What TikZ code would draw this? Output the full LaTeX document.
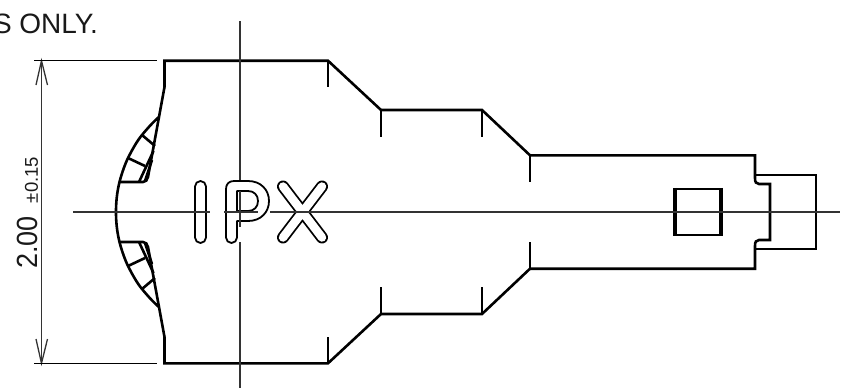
\documentclass[tikz,border=0pt]{standalone}
\usepackage{fontspec}
\setmainfont{Liberation Sans}
\tikzset{
  outline/.style={line width=2.6pt,black,line join=miter},
  centerline/.style={line width=1.2pt,black!80},
  dimline/.style={line width=1.3pt,black!80},
  lettering/.style={line width=1.8pt,black,fill=white,line join=round},
}
\newcommand{\halfpart}{%
  \draw[outline] (159,117) -- (164.5,87) -- (164.5,60.7) -- (328,60.7) -- (381,110) -- (482,110) -- (530,155.3) -- (755,155.3) -- (755,178) .. controls (755,182) and (756,184) .. (759,184) -- (770,184) -- (770,212);
  \draw[outline] (328,60.7) -- (328,87);
  \draw[outline] (381,110) -- (381,137);
  \draw[outline] (482,110) -- (482,137);
  \draw[outline] (530,155.3) -- (530,182);
  \draw[outline] (755,175) -- (816,175) -- (816,212);
  \draw[outline] (116,212) .. controls (116,202) and (117,192) .. (119.5,182) .. controls (122,172) and (126,162) .. (128,158) .. controls (132,150) and (137,141) .. (142,135) .. controls (147,129) and (153,122) .. (159,117);
  \draw[outline] (119.5,182) -- (143,182) .. controls (146,182) and (147,180) .. (148,177) -- (159,117);
  \draw[outline] (142,135) -- (155,146);
  \draw[outline] (128,158) -- (145,166);
  \draw[outline] (153.5,151) -- (139,182);
  \draw[outline] (152,160) -- (145,181);
  \draw[dimline] (36,85) -- (41.5,60.7) -- (47.5,85);
  \draw[line width=1.5pt] (34,60.7) -- (157,60.7);
}
\begin{document}
\begin{tikzpicture}[x=1pt,y=-1pt]
\useasboundingbox (0,0) rectangle (848,391);
\node[anchor=base east,font=\fontsize{28}{28}\selectfont,inner sep=0pt,text=black!90] (note) at (98,33) {S ONLY.};
\halfpart
\begin{scope}[shift={(0,424)},yscale=-1]
\halfpart
\end{scope}
% square
\draw[line width=2.4pt] (675,189) -- (721,189) (675,235) -- (721,235);
\draw[line width=3.6pt] (675,187.8) -- (675,236.2) (721,187.8) -- (721,236.2);
% lettering
\draw[lettering] (195,186.5) arc[start angle=180,end angle=360,radius=5.5] -- (206,237.5) arc[start angle=0,end angle=180,radius=5.5] -- cycle;
\draw[lettering,even odd rule] (226,237.5) -- (226,189) .. controls (226,184) and (229,181) .. (234,181) -- (248,181) .. controls (261,181) and (269,190) .. (269,201) .. controls (269,212) and (261,221) .. (248,221) -- (237,221) -- (237,237.5) arc[start angle=0,end angle=180,radius=5.5] -- cycle
  (237,191) -- (248,191) .. controls (254,191) and (258,195) .. (258,201) .. controls (258,207) and (254,211) .. (248,211) -- (237,211) -- cycle;
\draw[line width=12pt,line cap=round,black] (283,186.5) -- (322,237.5) (322,186.5) -- (283,237.5);
\draw[line width=8.4pt,line cap=round,white] (283,186.5) -- (322,237.5) (322,186.5) -- (283,237.5);
% centre lines
\draw[centerline] (73,212) -- (210,212) (224,212) -- (258,212) (270,212) -- (840,212);
\draw[centerline] (240,21) -- (240,180) (240,191) -- (240,227) (240,242) -- (240,388);
% dimension
\draw[dimline] (41.5,60.7) -- (41.5,363.3);
\node[rotate=90,inner sep=0pt,font=\fontsize{27}{27}\selectfont,yscale=1.08,text=black!90] (dimval) at (27.5,242.5) {2.00};
\node[rotate=90,inner sep=0pt,font=\fontsize{18.5}{18.5}\selectfont,text=black!90] (dimtol) at (31.5,180) {±0.15};
\end{tikzpicture}
\end{document}
